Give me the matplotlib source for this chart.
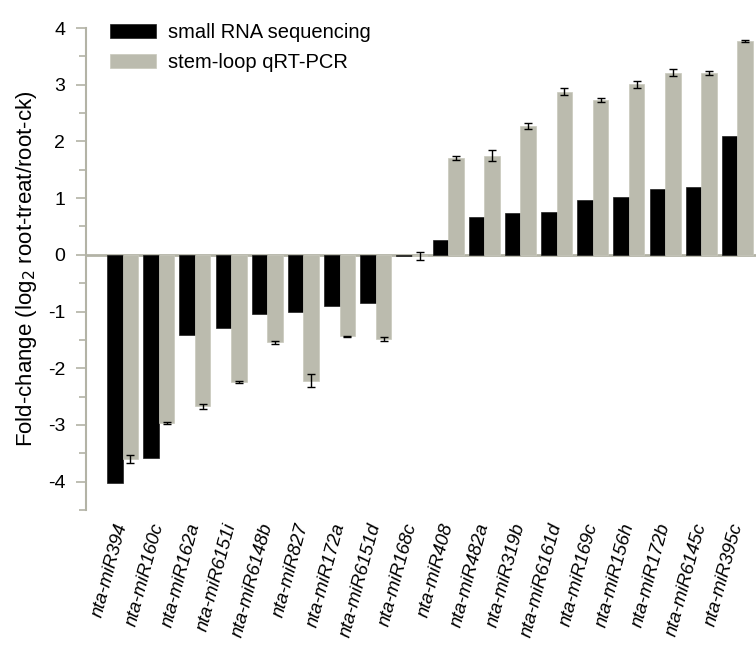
import matplotlib.pyplot as plt
import numpy as np
from matplotlib.ticker import MultipleLocator

plt.rcParams['font.family'] = ['Liberation Sans', 'DejaVu Sans']
plt.rcParams['axes.unicode_minus'] = False

mirnas = ['nta-miR394', 'nta-miR160c', 'nta-miR162a', 'nta-miR6151i', 'nta-miR6148b',
          'nta-miR827', 'nta-miR172a', 'nta-miR6151d', 'nta-miR168c', 'nta-miR408',
          'nta-miR482a', 'nta-miR319b', 'nta-miR6161d', 'nta-miR169c', 'nta-miR156h',
          'nta-miR172b', 'nta-miR6145c', 'nta-miR395c']

# log2 fold change from small RNA sequencing
seq_fc = [-4.02, -3.59, -1.41, -1.29, -1.05, -1.00, -0.90, -0.85, -0.02, 0.26,
          0.66, 0.74, 0.76, 0.96, 1.02, 1.16, 1.19, 2.09]

# stem-loop qRT-PCR mean and error
qpcr_fc = [-3.60, -2.97, -2.67, -2.245, -1.545, -2.22, -1.44, -1.48, -0.02, 1.70,
           1.75, 2.27, 2.88, 2.73, 3.01, 3.21, 3.21, 3.77]
qpcr_err = [0.07, 0.02, 0.045, 0.02, 0.025, 0.11, 0.015, 0.035, 0.07, 0.035,
            0.09, 0.05, 0.07, 0.04, 0.06, 0.065, 0.035, 0.025]

axis_col = '#b3b3a6'
gray_col = '#bbbbae'

fig = plt.figure(figsize=(7.56, 6.5), dpi=100)
ax = fig.add_axes([0.1138, 0.2154, 0.886, 0.7415])

x = np.arange(len(mirnas))
w = 0.43
ax.bar(x - w / 2, seq_fc, w, color='black', edgecolor='#202020', linewidth=0.5,
       label='small RNA sequencing', zorder=2)
ax.bar(x + w / 2, qpcr_fc, w, color=gray_col, edgecolor='#c8c8bc', linewidth=0.5,
       label='stem-loop qRT-PCR', zorder=2)
ax.errorbar(x + w / 2, qpcr_fc, yerr=qpcr_err, fmt='none', ecolor='black',
            elinewidth=1.0, capsize=3, capthick=1.0, zorder=3)

ax.axhline(0, color=axis_col, linewidth=2, zorder=1)

ax.set_xlim(-1.01, 17.51)
ax.set_ylim(-4.5, 4)
ax.yaxis.set_major_locator(MultipleLocator(1))
ax.yaxis.set_minor_locator(MultipleLocator(0.5))
ax.tick_params(axis='y', which='major', direction='out', length=7, width=1.2,
               color=axis_col, labelsize=14, pad=8)
ax.tick_params(axis='y', which='minor', direction='out', length=5, width=1.2,
               color=axis_col)
ax.set_xticks(x)
ax.set_xticklabels(mirnas, rotation=75, ha='right', va='center',
                   rotation_mode='anchor', fontstyle='italic', fontsize=13.5)
ax.tick_params(axis='x', length=0, pad=10)

for s in ['top', 'right', 'bottom']:
    ax.spines[s].set_visible(False)
ax.spines['left'].set_color(axis_col)
ax.spines['left'].set_linewidth(1.5)

ax.set_ylabel('Fold-change (log$_2$ root-treat/root-ck)', fontsize=16, labelpad=6)

ax.legend(loc='upper left', bbox_to_anchor=(0.1455, 0.965),
          bbox_transform=fig.transFigure, frameon=False, fontsize=14.5,
          handlelength=2.3, handleheight=0.7, handletextpad=0.6,
          labelspacing=0.55, borderpad=0, borderaxespad=0)

fig.savefig('out.png', dpi=100)
